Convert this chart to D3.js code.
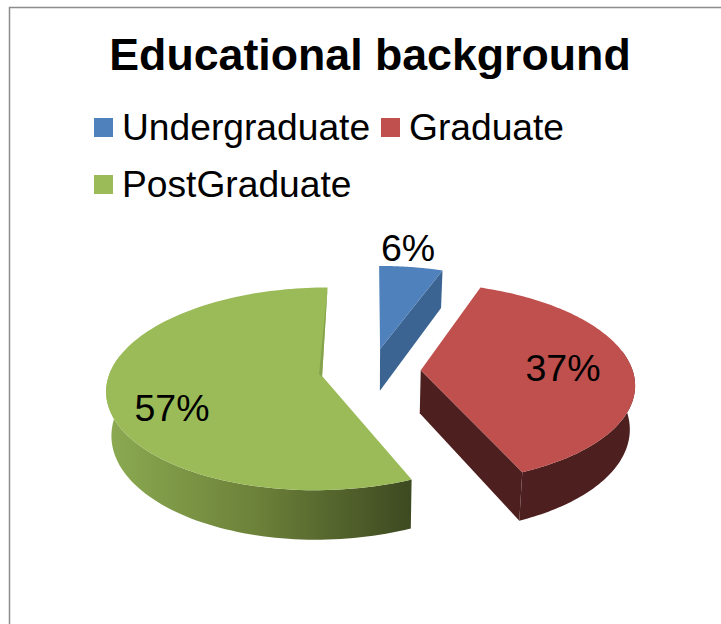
<!DOCTYPE html>
<html>
<head>
<meta charset="utf-8">
<title>Educational background</title>
<script src="https://cdn.jsdelivr.net/npm/d3@7/dist/d3.min.js"></script>
<style>
  html, body { margin: 0; padding: 0; background: #fff; }
  svg { display: block; }
  text { font-family: "Liberation Sans", Arial, sans-serif; fill: #000; }
</style>
</head>
<body>
<script>
// Chart content
const chartTitle = "Educational background";
const categories = ["Undergraduate", "Graduate", "PostGraduate"];
const shares = [6, 37, 57];
const topColors = ["#4f81bd", "#bf504d", "#9bbb59"];
const sideColors = ["#3c6493", "#4d1f1f", "url(#greenWall)"];

const width = 721, height = 624;

// Perspective model of the tilted, exploded disc
const center = { x: 371, y: 371 };
const radiusX = 212, radiusY = 98.5;
const perspective = 0.125;
const tiltWarp = 0.04;
const explode = 0.235;
const depth = 43;
const taper = 0.02;

function project(u, v, h) {
  const s = 1 / (1 - perspective * v);
  return [
    center.x + u * radiusX * s * (1 - taper * h),
    center.y + v * radiusY * s + h * depth * s
  ];
}

const svg = d3.select("body").append("svg")
  .attr("width", width).attr("height", height);

const grad = svg.append("defs").append("linearGradient")
  .attr("id", "greenWall")
  .attr("gradientUnits", "userSpaceOnUse")
  .attr("x1", 105).attr("x2", 409).attr("y1", 0).attr("y2", 0);
grad.append("stop").attr("offset", 0).attr("stop-color", "#8cab52");
grad.append("stop").attr("offset", 0.5).attr("stop-color", "#6c8139");
grad.append("stop").attr("offset", 1).attr("stop-color", "#3e4a21");

// Frame: only the top and left edges fall inside the page
svg.append("path")
  .attr("d", d3.line()([[9.5, height], [9.5, 7.5], [width, 7.5]]))
  .attr("fill", "none").attr("stroke", "#8c8c8c").attr("stroke-width", 1.5);

// Title
svg.append("text")
  .attr("x", 370).attr("y", 70)
  .attr("text-anchor", "middle")
  .attr("font-size", 44.7).attr("font-weight", "bold")
  .text(chartTitle);

// Legend
const legendColumns = [94, 381, 94];
const legendRows = [118, 118, 175];
const legend = svg.append("g").selectAll("g").data(categories).join("g")
  .attr("transform", (d, i) => `translate(${legendColumns[i]},${legendRows[i]})`);
legend.append("rect")
  .attr("width", 19).attr("height", 19)
  .attr("fill", (d, i) => topColors[i]);
legend.append("text")
  .attr("x", 28).attr("y", 22)
  .attr("font-size", 37.2)
  .text(d => d);

// Slices from d3.pie, clockwise from twelve o'clock
const arcs = d3.pie().sort(null)(shares);
const line = d3.line();

function slicePaths(a) {
  const mid = (a.startAngle + a.endAngle) / 2;
  const ox = Math.sin(mid) * explode;
  const oy = -Math.cos(mid) * explode;
  const warp = t => t - tiltWarp * Math.sin(2 * t);
  const steps = d3.range(0, 121).map(i => a.startAngle + (a.endAngle - a.startAngle) * i / 120);
  const rimAt = (t, h) => {
    const w = warp(t);
    return project(ox + Math.sin(w), oy - Math.cos(w), h);
  };
  const front = steps.filter(t => Math.cos(t) < 0.2);
  const apex = h => project(ox, oy, h);
  const end = a.endAngle;
  return {
    top: line([apex(0), ...steps.map(t => rimAt(t, 0))]) + "Z",
    wall: front.length
      ? line([...front.map(t => rimAt(t, 0)), ...front.slice().reverse().map(t => rimAt(t, 1))]) + "Z"
      : null,
    endFace: line([apex(0), rimAt(end, 0), rimAt(end, 1), apex(1)]) + "Z",
    apexTop: apex(0),
    rimEnd: rimAt(end, 0)
  };
}

const slices = svg.append("g").selectAll("g").data(arcs).join("g");

slices.each(function (a, i) {
  const p = slicePaths(a);
  const g = d3.select(this);
  if (i < 2) g.append("path").attr("d", p.endFace).attr("fill", sideColors[i]);
  if (p.wall && i > 0) g.append("path").attr("d", p.wall).attr("fill", sideColors[i]);
  g.append("path").attr("d", p.top).attr("fill", topColors[i]);
  if (i === 2) {
    // Thin inner face along the closing edge of the large slice
    const [ax, ay] = p.apexTop;
    g.append("path")
      .attr("d", line([p.rimEnd, [ax - 3, ay - 2], [ax, ay + 1]]) + "Z")
      .attr("fill", "#85a24c");
  }
});

// Value labels
const labelSpots = [[408, 261], [563, 381], [172, 421]];
svg.append("g").selectAll("text").data(shares).join("text")
  .attr("x", (d, i) => labelSpots[i][0])
  .attr("y", (d, i) => labelSpots[i][1])
  .attr("text-anchor", "middle")
  .attr("font-size", 37.5)
  .text(d => d + "%");
</script>
</body>
</html>
